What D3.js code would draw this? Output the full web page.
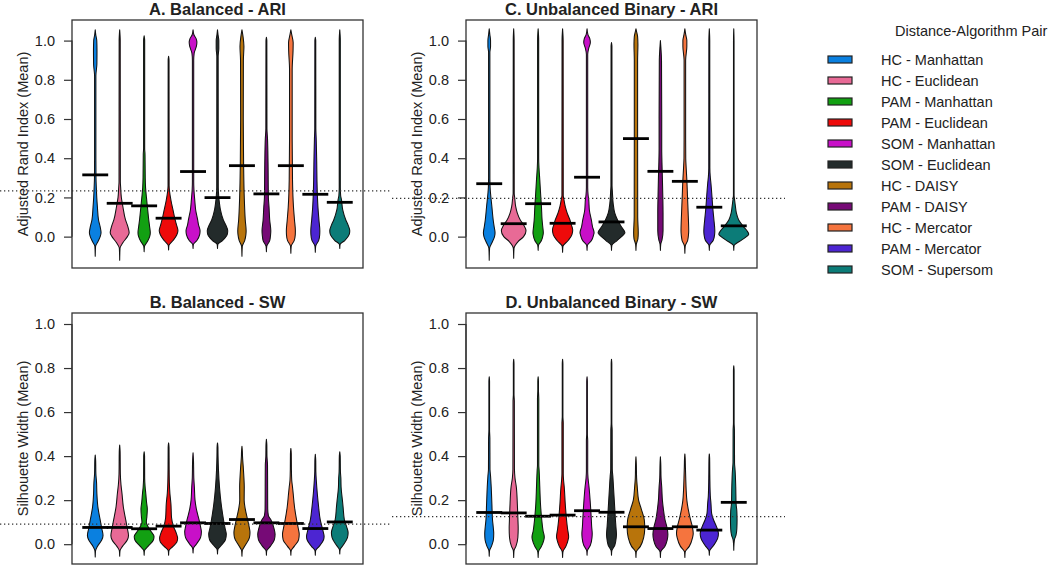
<!DOCTYPE html>
<html><head><meta charset="utf-8">
<script src="https://cdn.jsdelivr.net/npm/d3@7"></script>
<style>body{margin:0;background:#fff}svg{display:block}text{font-family:Arial,"Liberation Sans",sans-serif;fill:#222}</style>
</head><body><svg id="c" width="1050" height="565"></svg>
<script>
const categories = ["HC - Manhattan","HC - Euclidean","PAM - Manhattan","PAM - Euclidean","SOM - Manhattan","SOM - Euclidean","HC - DAISY","PAM - DAISY","HC - Mercator","PAM - Mercator","SOM - Supersom"];
const colors = ["#0a80e0","#e86a96","#12a012","#ee0a0a","#c810c8","#232b2b","#b8740b","#760a76","#f5743e","#4c25d2","#0c7c78"];
const yTicks = [0,0.2,0.4,0.6,0.8,1.0];
const titles = ["A. Balanced - ARI","B. Balanced - SW","C. Unbalanced Binary - ARI","D. Unbalanced Binary - SW"];
const yLabels = ["Adjusted Rand Index (Mean)","Silhouette Width (Mean)"];
const legendTitle = "Distance-Algorithm Pair";

const meansA = [0.315,0.17,0.157,0.094,0.332,0.199,0.362,0.218,0.362,0.216,0.175];
const meansB = [0.076,0.076,0.07,0.082,0.097,0.094,0.112,0.097,0.094,0.071,0.101];
const meansC = [0.27,0.066,0.168,0.068,0.303,0.075,0.5,0.333,0.282,0.15,0.055];
const meansD = [0.144,0.142,0.127,0.132,0.152,0.145,0.079,0.071,0.079,0.064,0.19];
const refA = 0.233, refB = 0.091, refC = 0.195, refD = 0.125;

// violin profiles: [value, relative density]
const shapesA = [
 [[-0.10,0],[-0.05,0.03],[-0.025,0.25],[0.0,0.45],[0.02,0.53],[0.05,0.45],[0.085,0.3],[0.15,0.2],[0.2,0.14],[0.25,0.1],[0.3,0.07],[0.4,0.06],[0.82,0.06],[0.88,0.15],[0.95,0.16],[1.0,0.14],[1.03,0.05],[1.055,0]],
 [[-0.12,0],[-0.06,0.03],[-0.03,0.3],[0.0,0.7],[0.02,0.86],[0.05,0.75],[0.085,0.53],[0.15,0.3],[0.2,0.15],[0.25,0.09],[0.28,0.06],[1.0,0.05],[1.055,0]],
 [[-0.077,0],[-0.05,0.03],[-0.025,0.3],[0.0,0.5],[0.02,0.56],[0.05,0.5],[0.085,0.42],[0.15,0.3],[0.2,0.21],[0.25,0.13],[0.3,0.1],[0.42,0.08],[0.45,0.05],[1.0,0.05],[1.024,0]],
 [[-0.068,0],[-0.045,0.03],[-0.02,0.4],[0.01,0.75],[0.03,0.85],[0.06,0.72],[0.085,0.6],[0.136,0.4],[0.187,0.21],[0.23,0.09],[0.26,0.05],[0.9,0.04],[0.92,0]],
 [[-0.06,0],[-0.04,0.03],[-0.02,0.35],[0.01,0.6],[0.03,0.64],[0.06,0.5],[0.085,0.42],[0.136,0.24],[0.19,0.15],[0.24,0.08],[0.28,0.06],[0.9,0.06],[0.935,0.1],[0.97,0.3],[0.99,0.35],[1.01,0.28],[1.03,0.08],[1.055,0]],
 [[-0.06,0],[-0.04,0.03],[-0.02,0.45],[0.01,0.88],[0.03,0.93],[0.06,0.75],[0.085,0.53],[0.136,0.27],[0.17,0.18],[0.2,0.12],[0.25,0.07],[0.92,0.06],[0.96,0.12],[1.0,0.12],[1.03,0.05],[1.055,0]],
 [[-0.10,0],[-0.05,0.03],[-0.02,0.25],[0.01,0.36],[0.03,0.38],[0.085,0.3],[0.2,0.21],[0.37,0.15],[0.6,0.12],[0.9,0.13],[0.97,0.18],[1.02,0.1],[1.055,0]],
 [[-0.077,0],[-0.05,0.03],[-0.02,0.3],[0.01,0.38],[0.03,0.4],[0.085,0.3],[0.15,0.24],[0.2,0.18],[0.37,0.15],[0.5,0.1],[0.55,0.05],[1.0,0.04],[1.017,0]],
 [[-0.085,0],[-0.05,0.03],[-0.02,0.3],[0.01,0.4],[0.03,0.41],[0.085,0.33],[0.15,0.24],[0.29,0.15],[0.5,0.12],[0.85,0.12],[0.95,0.2],[0.99,0.21],[1.03,0.08],[1.055,0]],
 [[-0.08,0],[-0.05,0.03],[-0.02,0.3],[0.01,0.4],[0.03,0.41],[0.085,0.33],[0.15,0.24],[0.29,0.15],[0.37,0.13],[0.5,0.08],[0.55,0.05],[1.0,0.04],[1.017,0]],
 [[-0.06,0],[-0.04,0.03],[-0.02,0.45],[0.01,0.85],[0.03,0.91],[0.06,0.75],[0.085,0.55],[0.136,0.27],[0.19,0.15],[0.21,0.08],[0.25,0.05],[1.0,0.05],[1.055,0]]
];
const shapesC = [
 [[-0.12,0],[-0.06,0.03],[-0.025,0.3],[0.0,0.48],[0.02,0.53],[0.05,0.45],[0.085,0.36],[0.154,0.24],[0.22,0.12],[0.25,0.08],[0.3,0.06],[0.94,0.06],[0.97,0.12],[1.0,0.12],[1.03,0.06],[1.06,0]],
 [[-0.11,0],[-0.06,0.03],[-0.025,0.4],[0.0,0.9],[0.03,1.12],[0.06,0.9],[0.085,0.6],[0.12,0.33],[0.154,0.18],[0.2,0.09],[0.22,0.05],[1.0,0.04],[1.06,0]],
 [[-0.07,0],[-0.045,0.03],[-0.02,0.3],[0.01,0.45],[0.02,0.47],[0.05,0.42],[0.085,0.36],[0.154,0.3],[0.205,0.24],[0.29,0.15],[0.35,0.08],[0.4,0.05],[1.0,0.05],[1.06,0]],
 [[-0.08,0],[-0.05,0.03],[-0.02,0.5],[0.01,0.85],[0.034,0.92],[0.06,0.8],[0.085,0.67],[0.12,0.42],[0.154,0.24],[0.19,0.12],[0.21,0.06],[1.0,0.05],[1.06,0]],
 [[-0.07,0],[-0.045,0.03],[-0.02,0.4],[0.01,0.6],[0.02,0.64],[0.05,0.5],[0.085,0.39],[0.136,0.21],[0.19,0.15],[0.21,0.1],[0.25,0.06],[0.93,0.06],[0.96,0.15],[0.99,0.3],[1.01,0.25],[1.03,0.08],[1.06,0]],
 [[-0.07,0],[-0.045,0.03],[-0.02,0.5],[0.01,1.1],[0.02,1.22],[0.05,0.9],[0.085,0.55],[0.12,0.3],[0.17,0.15],[0.23,0.08],[0.26,0.05],[0.97,0.04],[0.99,0]],
 [[-0.07,0],[-0.04,0.03],[-0.01,0.18],[0.02,0.21],[0.1,0.16],[0.5,0.15],[0.9,0.15],[0.98,0.18],[1.02,0.15],[1.045,0.06],[1.06,0]],
 [[-0.07,0],[-0.04,0.03],[-0.015,0.15],[0.03,0.24],[0.12,0.24],[0.2,0.22],[0.3,0.18],[0.38,0.14],[0.45,0.12],[0.6,0.12],[0.9,0.1],[0.96,0.05],[1.0,0]],
 [[-0.085,0],[-0.05,0.03],[-0.02,0.25],[0.01,0.33],[0.03,0.35],[0.12,0.3],[0.205,0.24],[0.29,0.18],[0.35,0.12],[0.4,0.08],[0.5,0.07],[0.9,0.07],[0.97,0.18],[1.0,0.18],[1.03,0.08],[1.06,0]],
 [[-0.07,0],[-0.045,0.03],[-0.02,0.35],[0.01,0.48],[0.03,0.5],[0.085,0.42],[0.137,0.33],[0.205,0.24],[0.27,0.15],[0.31,0.08],[0.35,0.05],[1.0,0.04],[1.06,0]],
 [[-0.07,0],[-0.045,0.03],[-0.025,0.5],[0.0,1.15],[0.012,1.36],[0.03,1.2],[0.05,0.9],[0.085,0.45],[0.12,0.24],[0.154,0.15],[0.19,0.07],[0.21,0.03],[1.0,0.025],[1.06,0]]
];
const shapesB = [
 [[-0.058,0],[-0.03,0.03],[-0.01,0.2],[0.02,0.6],[0.04,0.71],[0.07,0.6],[0.11,0.45],[0.17,0.24],[0.23,0.15],[0.28,0.12],[0.32,0.06],[0.38,0.04],[0.405,0]],
 [[-0.055,0],[-0.03,0.03],[-0.01,0.25],[0.02,0.7],[0.04,0.8],[0.07,0.7],[0.11,0.55],[0.17,0.33],[0.23,0.21],[0.27,0.12],[0.32,0.06],[0.42,0.04],[0.45,0]],
 [[-0.05,0],[-0.03,0.03],[-0.01,0.35],[0.02,0.85],[0.035,0.9],[0.06,0.6],[0.085,0.3],[0.1,0.2],[0.125,0.25],[0.16,0.29],[0.19,0.22],[0.23,0.15],[0.26,0.09],[0.3,0.05],[0.4,0.04],[0.42,0]],
 [[-0.05,0],[-0.03,0.03],[-0.01,0.4],[0.01,0.75],[0.026,0.82],[0.05,0.7],[0.08,0.45],[0.12,0.27],[0.185,0.21],[0.23,0.12],[0.28,0.07],[0.35,0.05],[0.44,0.04],[0.46,0]],
 [[-0.04,0],[-0.02,0.03],[0.0,0.3],[0.03,0.68],[0.056,0.76],[0.08,0.68],[0.11,0.55],[0.16,0.3],[0.2,0.18],[0.26,0.12],[0.3,0.07],[0.38,0.04],[0.415,0]],
 [[-0.045,0],[-0.025,0.03],[-0.005,0.35],[0.02,0.72],[0.045,0.8],[0.07,0.7],[0.11,0.55],[0.185,0.33],[0.26,0.18],[0.336,0.09],[0.4,0.05],[0.44,0.04],[0.46,0]],
 [[-0.055,0],[-0.03,0.03],[-0.005,0.3],[0.03,0.68],[0.052,0.73],[0.08,0.65],[0.11,0.52],[0.16,0.3],[0.2,0.2],[0.26,0.21],[0.3,0.18],[0.35,0.12],[0.4,0.05],[0.42,0.04],[0.445,0]],
 [[-0.05,0],[-0.03,0.03],[-0.01,0.35],[0.02,0.72],[0.045,0.79],[0.07,0.7],[0.11,0.42],[0.13,0.18],[0.16,0.12],[0.36,0.1],[0.4,0.05],[0.45,0.04],[0.476,0]],
 [[-0.05,0],[-0.03,0.03],[-0.01,0.3],[0.02,0.7],[0.045,0.76],[0.07,0.68],[0.11,0.52],[0.17,0.33],[0.23,0.21],[0.26,0.15],[0.29,0.08],[0.34,0.05],[0.41,0.04],[0.435,0]],
 [[-0.05,0],[-0.03,0.03],[-0.01,0.35],[0.02,0.75],[0.035,0.8],[0.06,0.7],[0.11,0.45],[0.17,0.3],[0.23,0.18],[0.29,0.09],[0.33,0.05],[0.38,0.04],[0.408,0]],
 [[-0.045,0],[-0.025,0.03],[-0.005,0.3],[0.03,0.7],[0.052,0.76],[0.08,0.62],[0.11,0.42],[0.17,0.3],[0.2,0.24],[0.26,0.12],[0.3,0.1],[0.33,0.06],[0.4,0.04],[0.42,0]]
];
const shapesD = [
 [[-0.055,0],[-0.03,0.03],[-0.01,0.2],[0.02,0.38],[0.048,0.41],[0.08,0.36],[0.11,0.3],[0.185,0.24],[0.26,0.18],[0.31,0.12],[0.34,0.07],[0.48,0.06],[0.52,0.03],[0.74,0.03],[0.76,0]],
 [[-0.06,0],[-0.03,0.03],[-0.01,0.2],[0.03,0.38],[0.07,0.41],[0.12,0.38],[0.185,0.33],[0.26,0.24],[0.3,0.12],[0.34,0.07],[0.65,0.06],[0.68,0.03],[0.82,0.03],[0.84,0]],
 [[-0.06,0],[-0.035,0.03],[-0.01,0.3],[0.02,0.52],[0.033,0.56],[0.06,0.45],[0.11,0.33],[0.185,0.21],[0.26,0.15],[0.336,0.09],[0.36,0.06],[0.66,0.06],[0.7,0.03],[0.74,0.03],[0.76,0]],
 [[-0.06,0],[-0.035,0.03],[-0.01,0.3],[0.02,0.5],[0.033,0.55],[0.07,0.45],[0.11,0.36],[0.185,0.24],[0.26,0.15],[0.29,0.09],[0.32,0.06],[0.55,0.06],[0.58,0.03],[0.82,0.03],[0.84,0]],
 [[-0.05,0],[-0.03,0.03],[-0.005,0.3],[0.03,0.45],[0.048,0.47],[0.08,0.42],[0.11,0.39],[0.185,0.3],[0.26,0.18],[0.3,0.09],[0.33,0.06],[0.47,0.06],[0.5,0.03],[0.74,0.03],[0.76,0]],
 [[-0.05,0],[-0.03,0.03],[-0.005,0.3],[0.03,0.43],[0.045,0.45],[0.08,0.4],[0.11,0.36],[0.185,0.27],[0.26,0.18],[0.31,0.12],[0.34,0.07],[0.52,0.06],[0.55,0.03],[0.82,0.03],[0.84,0]],
 [[-0.06,0],[-0.035,0.03],[-0.01,0.4],[0.03,0.7],[0.072,0.8],[0.11,0.76],[0.16,0.48],[0.2,0.24],[0.26,0.12],[0.3,0.06],[0.37,0.03],[0.397,0]],
 [[-0.06,0],[-0.035,0.03],[-0.01,0.4],[0.02,0.62],[0.045,0.68],[0.08,0.58],[0.11,0.42],[0.16,0.27],[0.2,0.18],[0.26,0.12],[0.3,0.06],[0.37,0.03],[0.397,0]],
 [[-0.06,0],[-0.035,0.03],[-0.01,0.4],[0.03,0.7],[0.048,0.76],[0.08,0.68],[0.11,0.52],[0.16,0.3],[0.2,0.18],[0.245,0.12],[0.3,0.08],[0.35,0.05],[0.39,0.03],[0.41,0]],
 [[-0.05,0],[-0.03,0.03],[-0.005,0.4],[0.025,0.75],[0.048,0.83],[0.08,0.65],[0.11,0.39],[0.14,0.21],[0.185,0.15],[0.22,0.09],[0.3,0.05],[0.39,0.03],[0.41,0]],
 [[-0.027,0],[0.0,0.02],[0.02,0.06],[0.04,0.2],[0.07,0.28],[0.11,0.3],[0.15,0.28],[0.185,0.21],[0.26,0.18],[0.336,0.12],[0.37,0.07],[0.52,0.06],[0.55,0.03],[0.79,0.03],[0.81,0]]
];

const svg = d3.select("#c");
svg.append("rect").attr("width",1050).attr("height",565).attr("fill","#fff");

const panels = [
 {title:titles[0], ylab:yLabels[0], shapes:shapesA, means:meansA, ref:refA, L:72, R:363, T:20, B:268, dom:[-0.16,1.105], fx:[0,392], tY:14.5},
 {title:titles[1], ylab:yLabels[1], shapes:shapesB, means:meansB, ref:refB, L:72, R:363, T:313, B:564, dom:[-0.09,1.05], fx:[0,392], tY:307.5},
 {title:titles[2], ylab:yLabels[0], shapes:shapesC, means:meansC, ref:refC, L:466, R:757, T:20, B:268, dom:[-0.16,1.105], fx:[392,785], tY:14.5},
 {title:titles[3], ylab:yLabels[1], shapes:shapesD, means:meansD, ref:refD, L:466, R:757, T:313, B:564, dom:[-0.09,1.05], fx:[392,785], tY:307.5}
];

panels.forEach(p => {
  const g = svg.append("g");
  const x = d3.scaleLinear().domain([0.05,11.95]).range([p.L,p.R]);
  const y = d3.scaleLinear().domain(p.dom).range([p.B,p.T]);
  const unit = x(1)-x(0);
  const w = d => d*0.45*unit;

  p.shapes.forEach((s,i) => {
    const pts = s.slice().sort((a,b)=>b[0]-a[0]);
    const area = d3.area()
      .y(d => y(d[0]))
      .x0(d => x(i+1)-w(d[1]))
      .x1(d => x(i+1)+w(d[1]))
      .curve(d3.curveMonotoneY);
    g.append("path").attr("d",area(pts))
      .attr("fill",colors[i]).attr("stroke","#111").attr("stroke-width",1.05).attr("stroke-linejoin","round");
  });

  p.means.forEach((m,i) => {
    g.append("line").attr("x1",x(i+1-0.53)).attr("x2",x(i+1+0.53))
      .attr("y1",y(m)).attr("y2",y(m)).attr("stroke","#000").attr("stroke-width",2.8);
  });

  g.append("line").attr("x1",p.fx[0]).attr("x2",p.fx[1]).attr("y1",y(p.ref)).attr("y2",y(p.ref))
    .attr("stroke","#333").attr("stroke-width",1.2).attr("stroke-dasharray","1.3,2.7");

  g.append("rect").attr("x",p.L).attr("y",p.T).attr("width",p.R-p.L).attr("height",p.B-p.T)
    .attr("fill","none").attr("stroke","#333").attr("stroke-width",1.3);

  const ax = g.append("g").attr("transform",`translate(${p.L},0)`)
    .call(d3.axisLeft(y).tickValues(yTicks).tickFormat(d3.format(".1f")).tickSize(8).tickPadding(9));
  ax.select(".domain").attr("d",`M0,${y(0)}V${y(1)}`).attr("stroke","#333").attr("stroke-width",1.2);
  ax.selectAll(".tick line").attr("stroke","#333").attr("stroke-width",1.2);
  ax.selectAll("text").attr("font-size",14.5).attr("fill","#222").style("font-family","Arial, 'Liberation Sans', sans-serif");

  g.append("text").attr("transform",`translate(${p.L-49},${(p.T+p.B)/2}) rotate(-90)`)
    .attr("text-anchor","middle").attr("dy","0.35em").attr("font-size",14.5).text(p.ylab);

  g.append("text").attr("x",(p.L+p.R)/2).attr("y",p.tY).attr("text-anchor","middle")
    .attr("font-size",16.5).attr("font-weight","bold").text(p.title);
});

const lg = svg.append("g");
lg.append("text").attr("x",895).attr("y",36).attr("font-size",14.5).text(legendTitle);
categories.forEach((c,i) => {
  const cy = 59.5 + i*21;
  lg.append("rect").attr("x",828).attr("y",cy-3.5).attr("width",24).attr("height",7)
    .attr("fill",colors[i]).attr("stroke","#222").attr("stroke-width",1.2);
  lg.append("text").attr("x",881).attr("y",cy+5.2).attr("font-size",14.5).text(c);
});
</script></body></html>
